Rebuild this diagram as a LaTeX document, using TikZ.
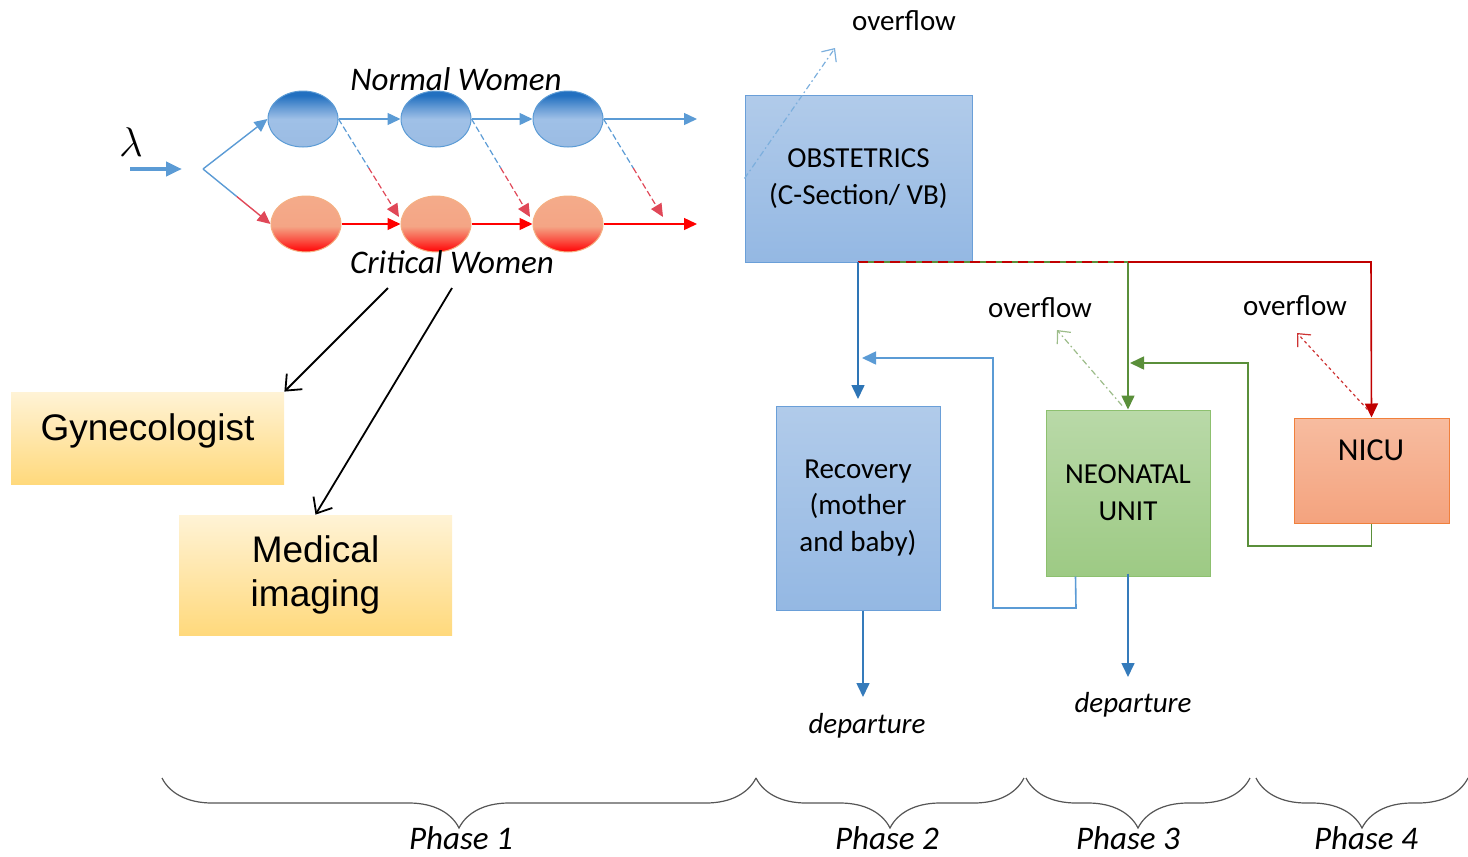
\documentclass[tikz,border=0pt]{standalone}
\usepackage{fontspec}
\setmainfont{Carlito}
\newfontfamily\arialf{Liberation Sans}
\usetikzlibrary{arrows.meta,decorations.pathreplacing,shapes.geometric,calc}
\definecolor{lblue}{HTML}{5B9BD5}
\definecolor{dblue}{HTML}{2E75B6}
\definecolor{lred}{HTML}{FF0000}
\definecolor{dred}{HTML}{C00000}
\definecolor{pred}{HTML}{E04858}
\definecolor{dgreen}{HTML}{5A8F3A}
\definecolor{bracegray}{HTML}{555555}
\definecolor{ellTop}{HTML}{2270C0}
\definecolor{ellMid}{HTML}{9FC0E7}
\definecolor{ellBot}{HTML}{9BBCE3}
\definecolor{salmon}{HTML}{F4AB8A}
\definecolor{salmonB}{HTML}{F4A585}
\definecolor{redBot}{HTML}{FF1010}
\definecolor{ellOrange}{HTML}{F4B183}
\definecolor{yelTop}{HTML}{FFF3D6}
\definecolor{yelBot}{HTML}{FFD97C}
\definecolor{obsTop}{HTML}{B1CBEA}
\definecolor{obsBot}{HTML}{94B8E3}
\definecolor{obsLine}{HTML}{6A9FD8}
\definecolor{grnTop}{HTML}{B9D9A8}
\definecolor{grnBot}{HTML}{9DCA84}
\definecolor{grnLine}{HTML}{8DC06F}
\definecolor{nicTop}{HTML}{F7BCA0}
\definecolor{nicBot}{HTML}{F4A37E}
\definecolor{nicLine}{HTML}{F0803C}
\pgfdeclareverticalshading{blueell}{100bp}{color(0bp)=(ellBot); color(25bp)=(ellBot); color(50bp)=(ellMid); color(60bp)=(ellMid!55!ellTop); color(71bp)=(ellTop); color(100bp)=(ellTop)}
\pgfdeclareverticalshading{redell}{100bp}{color(0bp)=(redBot); color(27bp)=(redBot); color(36bp)=(redBot!55!salmonB); color(48bp)=(salmonB); color(75bp)=(salmon); color(100bp)=(salmon)}
\tikzset{
  nell/.style={ellipse, minimum width=35pt, minimum height=28pt, inner sep=0pt, draw=lblue, line width=0.5pt,
    shading=blueell},
  cell/.style={ellipse, minimum width=35pt, minimum height=28pt, inner sep=0pt, draw=ellOrange, line width=0.5pt,
    shading=redell},
  tip/.style={-{Triangle[length=6.5pt,width=6pt]}},
  bluearr/.style={tip, draw=lblue, line width=0.7pt},
  redarr/.style={tip, draw=lred, line width=0.7pt},
  dashline/.style={dashed, dash pattern=on 3pt off 1.5pt, line width=0.6pt},
  blackarr/.style={-{Straight Barb[length=6.5pt,width=11pt]}, line width=0.9pt},
  yellowbox/.style={rectangle, inner sep=0pt, top color=yelTop, bottom color=yelBot, font=\arialf\fontsize{18.5}{22}\selectfont, align=center},
  bluebox/.style={rectangle, inner sep=0pt, top color=obsTop, bottom color=obsBot, draw=obsLine, line width=0.5pt, font=\fontsize{14.5}{18.4}\selectfont, align=center},
  greenbox/.style={rectangle, inner sep=0pt, top color=grnTop, bottom color=grnBot, draw=grnLine, line width=0.5pt, font=\fontsize{14.5}{18.5}\selectfont, align=center},
  nicubox/.style={rectangle, inner sep=0pt, top color=nicTop, bottom color=nicBot, draw=nicLine, line width=0.5pt},
  lbl/.style={font=\fontsize{14.5}{17}\selectfont},
  ilbl/.style={font=\itshape\fontsize{16.5}{19}\selectfont},
  plbl/.style={font=\itshape\fontsize{16.5}{19}\selectfont, inner sep=0pt},
  overflowarr/.style={-{Straight Barb[length=5pt,width=9pt]}, line width=0.6pt, dash pattern=on 3pt off 1.5pt on 0.8pt off 1.5pt},
  vtip/.style={-{Triangle[length=7pt,width=6.5pt]}},
  phasebrace/.style={decorate, decoration={brace, mirror, amplitude=25pt}, draw=bracegray, line width=0.6pt},
}
\begin{document}
\begin{tikzpicture}[x=0.5pt,y=-0.5pt]
\useasboundingbox (0,0) rectangle (1468,857);

% ---- Phase 1: queue network
\node[nell] (n1) at (303,119) {};
\node[nell] (n2) at (436,119) {};
\node[nell] (n3) at (568,119) {};
\node[cell] (c1) at (306,224) {};
\node[cell] (c2) at (436,224) {};
\node[cell] (c3) at (568,224) {};
\node[ilbl] (nw) at (456,79) {Normal Women};
\node[ilbl] (cw) at (452,262) {Critical Women};

\node[font=\fontsize{22}{24}\selectfont] (lam) at (131,142) {$\lambda$};
\coordinate (la1) at (130,169);
\coordinate (la2) at (182,169);
\draw[-{Triangle[length=8pt,width=7pt]}, draw=lblue, line width=2pt] (la1) -- (la2);

\coordinate (br) at (203,169);
\draw[bluearr] (br) -- (n1.west);
\draw[lblue, line width=0.7pt] (br) -- ($(br)!0.5!(c1.west)$) coordinate (brm);
\draw[tip, draw=pred, line width=0.7pt] (brm) -- (c1.west);

\coordinate (nout) at (697,119);
\coordinate (cout) at (697,224);
\draw[bluearr] (n1) -- (n2);
\draw[bluearr] (n2) -- (n3);
\draw[bluearr] (n3.east) -- (nout);
\draw[redarr] (c1) -- (c2);
\draw[redarr] (c2) -- (c3);
\draw[redarr] (c3.east) -- (cout);

\coordinate (d1) at (399,217);
\coordinate (d2) at (530,217);
\coordinate (d3) at (663,217);
\foreach \s/\e in {n1/d1,n2/d2,n3/d3}{
  \draw[dashline, draw=lblue] (\s.east) -- ($(\s.east)!0.5!(\e)$);
  \draw[dashline, draw=pred, -{Triangle[length=6.5pt,width=6pt]}] ($(\s.east)!0.5!(\e)$) -- (\e);
}

% ---- Gynecologist / Medical imaging
\node[yellowbox, minimum width=136.5pt, minimum height=46pt, text height=13.5pt, text depth=11pt] (gyn) at (147.5,438) {Gynecologist};
\node[yellowbox, minimum width=136.5pt, minimum height=60pt] (med) at (315.5,575) {Medical\\imaging};
\coordinate (cw1) at (388,288);
\coordinate (cw2) at (452,288);
\draw[blackarr] (cw1) -- (gyn.north east);
\draw[blackarr] (cw2) -- (med.north);

% ---- Obstetrics
\node[bluebox, minimum width=113.5pt, minimum height=83.5pt, font=\fontsize{14.5}{18.5}\selectfont] (obst) at (858.5,178.5) {OBSTETRICS\\(C-Section/ VB)};
\coordinate (of0) at (835,48);
\draw[overflowarr, draw=lblue!80] (obst.west) -- (of0);
\node[lbl] (ovf0) at (904,21) {overflow};

% ---- Phase 2-4 boxes
\node[bluebox, minimum width=82pt, minimum height=102pt] (rec) at (858,508) {Recovery\\(mother\\and baby)};
\node[greenbox, minimum width=82pt, minimum height=83pt] (neo) at (1128,493) {NEONATAL\\UNIT};
\node[nicubox, minimum width=77.5pt, minimum height=52.5pt] (nicu) at (1371.5,470.5) {};
\node[font=\fontsize{16}{19}\selectfont] (nicut) at (1371,450) {NICU};

% ---- distribution lines from obstetrics
\coordinate (split) at (858,262);
\coordinate (gsplit) at (1128,262);
\coordinate (rsplit) at (1371,262);
\coordinate (recin) at (858,399);
\draw[dgreen, line width=0.8pt] (split) -- (gsplit);
\draw[dred, line width=0.8pt, dash pattern=on 5pt off 3pt] (split) -- (gsplit);
\draw[vtip, dgreen, line width=0.8pt] (gsplit) -- (neo.north);
\draw[vtip, dred, line width=0.8pt] (gsplit) -- (rsplit) -- (nicu.north);
\draw[vtip, dblue, line width=0.8pt] (split) -- (recin);

% ---- return loops
\coordinate (rb) at (862,358);
\coordinate (gb) at (1130,363);
\draw[-{Triangle[length=7pt,width=6.5pt]}, lblue, line width=0.8pt]
  ($(neo.south west)+(30,0)$) -- (1076,608) -- (993,608) -- (993,358) -- (rb);
\draw[-{Triangle[length=7pt,width=6.5pt]}, dgreen, line width=0.8pt]
  (nicu.south) -- (1371.5,546) -- (1248,546) -- (1248,363) -- (gb);

% ---- overflows
\coordinate (of1) at (1057,330);
\coordinate (of2) at (1297,333);
\draw[overflowarr, draw=dgreen!60] ($(neo.north)+(-6,-4)$) -- (of1);
\draw[-{Straight Barb[length=5pt,width=9pt]}, line width=0.6pt, dash pattern=on 1.5pt off 1.5pt, draw=dred!80] ($(nicu.north)+(-4,-8)$) -- (of2);
\node[lbl] (ovf1) at (1040,308) {overflow};
\node[lbl] (ovf2) at (1295,306) {overflow};

% ---- departures
\coordinate (dep1) at (863,697);
\coordinate (dep2) at (1128,677);
\draw[vtip, dblue!85!lblue, line width=0.8pt] ($(rec.south)+(5,0)$) -- (dep1);
\draw[vtip, dblue!85!lblue, line width=0.8pt] ($(neo.south)+(0,-3)$) -- (dep2);
\node[lbl, font=\itshape\fontsize{14.5}{17}\selectfont] (dept1) at (867,726) {departure};
\node[lbl, font=\itshape\fontsize{14.5}{17}\selectfont] (dept2) at (1133,705) {departure};

% ---- phase braces
\draw[phasebrace] (162,778) -- (756,778);
\draw[phasebrace] (756,778) -- (1024,778);
\draw[phasebrace] (1026,778) -- (1250,778);
\draw[phasebrace] (1256,778) -- (1468,778);
\node[plbl] (p1) at (461,838) {Phase 1};
\node[plbl] (p2) at (887,838) {Phase 2};
\node[plbl] (p3) at (1128,838) {Phase 3};
\node[plbl] (p4) at (1366,838) {Phase 4};
\end{tikzpicture}
\end{document}
